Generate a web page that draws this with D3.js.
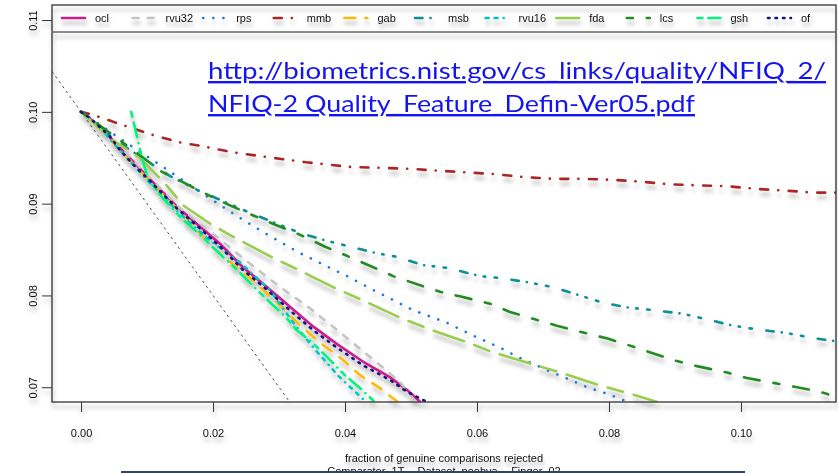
<!DOCTYPE html>
<html><head><meta charset="utf-8">
<script src="https://cdnjs.cloudflare.com/ajax/libs/d3/7.8.5/d3.min.js"></script>
<style>
body{margin:0;background:#fff;}
svg{display:block;}
text{font-family:"Liberation Sans",Arial,sans-serif;}
</style>
</head><body>
<svg id="c" width="838" height="473"></svg>
<script>
// ---------- data ----------
const seriesNames = ["ocl","rvu32","rps","mmb","gab","msb","rvu16","fda","lcs","gsh","of"];
const seriesColors = ["#CD1A8C","#C4C4C4","#1E78DC","#AA2828","#FFB90F","#0A8F94","#00C5CD","#9ACD50","#228B22","#00F57A","#15157A"];
const xTicks = [0.00,0.02,0.04,0.06,0.08,0.10];
const yTicks = [0.07,0.08,0.09,0.10,0.11];
const xTitle = "fraction of genuine comparisons rejected";
const subTitle = "Comparator_1T -- Dataset_poohva -- Finger_02";
const urlLines = ["http://biometrics.nist.gov/cs_links/quality/NFIQ_2/","NFIQ-2 Quality_Feature_Defin-Ver05.pdf"];
const refIntercept = 0.1, refSlope = -1;

const ocl_x = [0,0.0029,0.0056,0.0100,0.0145,0.0177,0.0211,0.0245,0.0282,0.0321,0.0352,0.0388,0.0427,0.0468,0.0494,0.0514];
const ocl_y = [0.1,0.0984,0.0963,0.0930,0.0897,0.0877,0.0856,0.0831,0.0809,0.0785,0.0766,0.0747,0.0728,0.0711,0.0697,0.0684];
const rvu32_x = [0,0.0029,0.0059,0.0105,0.0150,0.0195,0.0250,0.0300,0.0345,0.0392,0.0438,0.0483,0.0507];
const rvu32_y = [0.1,0.0984,0.0962,0.0928,0.0895,0.0870,0.0838,0.0810,0.0787,0.0760,0.0733,0.0706,0.0684];
const rps_x = [0,0.0059,0.0120,0.0180,0.0233,0.0276,0.0332,0.0403,0.0448,0.0503,0.0552,0.0592,0.0635,0.0665,0.0708,0.0738,0.0767,0.0797,0.0829];
const rps_y = [0.1,0.0971,0.0942,0.0913,0.0888,0.0869,0.0846,0.0821,0.0804,0.0784,0.0771,0.0757,0.0743,0.0732,0.0718,0.0709,0.0700,0.0693,0.0684];
const mmb_x = [0,0.0017,0.0062,0.0103,0.0148,0.0188,0.0229,0.0279,0.0342,0.0408,0.0453,0.0498,0.0539,0.0585,0.0630,0.0670,0.0715,0.0761,0.0805,0.0847,0.0892,0.0935,0.0979,0.1024,0.1070,0.1112,0.1144];
const mmb_y = [0.1,0.0997,0.0986,0.0976,0.0967,0.0962,0.0956,0.0951,0.0945,0.0940,0.0939,0.0938,0.0936,0.0934,0.0932,0.0929,0.0927,0.0927,0.0926,0.0924,0.0921,0.0920,0.0919,0.0916,0.0914,0.0912,0.0912];
const gab_x = [0,0.0029,0.0059,0.0105,0.0150,0.0200,0.0256,0.0302,0.0332,0.0367,0.0395,0.0423,0.0453,0.0480];
const gab_y = [0.1,0.0982,0.0958,0.0924,0.0891,0.0852,0.0819,0.0789,0.0767,0.0746,0.0731,0.0713,0.0699,0.0684];
const msb_x = [0,0.0044,0.0071,0.0105,0.0135,0.0176,0.0221,0.0256,0.0294,0.0332,0.0370,0.0403,0.0448,0.0479,0.0518,0.0555,0.0605,0.0635,0.0680,0.0715,0.0756,0.0791,0.0827,0.0867,0.0912,0.0948,0.0988,0.1024,0.1070,0.1105,0.1144];
const msb_y = [0.1,0.0974,0.0960,0.0944,0.0930,0.0915,0.0901,0.0890,0.0879,0.0868,0.0860,0.0854,0.0846,0.0842,0.0833,0.0830,0.0821,0.0819,0.0814,0.0809,0.0800,0.0792,0.0787,0.0784,0.0780,0.0774,0.0767,0.0763,0.0759,0.0754,0.0750];
const rvu16_x = [0,0.0029,0.0059,0.0105,0.0150,0.0195,0.0241,0.0286,0.0324,0.0350,0.0367,0.0389,0.0408,0.0432];
const rvu16_y = [0.1,0.0982,0.0958,0.0922,0.0889,0.0860,0.0836,0.0806,0.0768,0.0745,0.0731,0.0713,0.0700,0.0684];
const fda_x = [0,0.0044,0.0089,0.0127,0.0155,0.0198,0.0233,0.0291,0.0329,0.0388,0.0423,0.0486,0.0529,0.0585,0.0624,0.0685,0.0726,0.0791,0.0827,0.0873];
const fda_y = [0.1,0.0971,0.0950,0.0922,0.0898,0.0877,0.0863,0.0841,0.0828,0.0807,0.0796,0.0775,0.0763,0.0749,0.0738,0.0725,0.0716,0.0701,0.0694,0.0684];
const lcs_x = [0,0.0017,0.0044,0.0085,0.0124,0.0150,0.0202,0.0229,0.0271,0.0332,0.0370,0.0400,0.0442,0.0473,0.0514,0.0544,0.0574,0.0620,0.0650,0.0721,0.0753,0.0798,0.0829,0.0900,0.0933,0.0979,0.1009,0.1085,0.1115,0.1147];
const lcs_y = [0.1,0.0991,0.0977,0.0955,0.0934,0.0925,0.0906,0.0897,0.0884,0.0866,0.0853,0.0844,0.0831,0.0821,0.0811,0.0804,0.0799,0.0791,0.0782,0.0767,0.0761,0.0753,0.0746,0.0729,0.0723,0.0716,0.0710,0.0700,0.0696,0.0689];
const gsh_x = [0.0076,0.0092,0.0102,0.0124,0.0155,0.0176,0.0215,0.0236,0.0271,0.0312,0.0327,0.0350,0.0374,0.0400,0.0423,0.0445];
const gsh_y = [0.1,0.0951,0.0926,0.0906,0.0882,0.0869,0.0842,0.0828,0.0803,0.0775,0.0762,0.0749,0.0732,0.0713,0.0699,0.0684];
const of_x = [0,0.0014,0.0029,0.0044,0.0056,0.0077,0.0100,0.0130,0.0145,0.0177,0.0211,0.0245,0.0282,0.0321,0.0352,0.0388,0.0427,0.0468,0.0494,0.0524];
const of_y = [0.1,0.0993,0.0983,0.0973,0.0961,0.0944,0.0928,0.0906,0.0895,0.0875,0.0853,0.0828,0.0806,0.0781,0.0762,0.0743,0.0724,0.0708,0.0695,0.0684];

const seriesX = [ocl_x,rvu32_x,rps_x,mmb_x,gab_x,msb_x,rvu16_x,fda_x,lcs_x,gsh_x,of_x];
const seriesY = [ocl_y,rvu32_y,rps_y,mmb_y,gab_y,msb_y,rvu16_y,fda_y,lcs_y,gsh_y,of_y];

// ---------- styles ----------
const dashes = [null,"6,9","0.1,10","8,10,0.1,10.5","11,10","7.5,8,0.1,8.5,1.5,9.5,2.5,14.5","3,6,3,6,0.1,6","32,11,16,11","6,14,16,14","5,6,15,6,0.1,6","1.5,6"];
const L=52,R=836,T=5,B=402,LEGB=32;

const svg = d3.select("#c");
const defs = svg.append("defs");
const f = defs.append("filter").attr("id","sh").attr("x","-5%").attr("y","-5%").attr("width","115%").attr("height","130%");
f.append("feDropShadow").attr("dx",1).attr("dy",5).attr("stdDeviation",2).attr("flood-color","#000").attr("flood-opacity",0.28);
defs.append("clipPath").attr("id","clip").append("rect").attr("x",L).attr("y",LEGB).attr("width",R-L).attr("height",B-LEGB);

const x = d3.scaleLinear().domain([-0.0044,0.1144]).range([L,R]);
const y = d3.scaleLinear().domain([0.06839,0.11164]).range([B,T]);

const chart = svg.append("g").attr("filter","url(#sh)");

// reference line y = 0.1 - x
const refG = chart.append("g").attr("clip-path","url(#clip)");
const rx0 = x.domain()[0], rx1 = x.domain()[1];
refG.append("line")
  .attr("x1",x(rx0)).attr("y1",y(refIntercept+refSlope*rx0))
  .attr("x2",x(rx1)).attr("y2",y(refIntercept+refSlope*rx1))
  .attr("stroke","#222").attr("stroke-width",0.8).attr("stroke-dasharray","2.5,3.5");

// series
const lineGen = d3.line().x(d=>x(d[0])).y(d=>y(d[1]));
const linesG = chart.append("g").attr("clip-path","url(#clip)");
seriesNames.forEach((n,i)=>{
  const pts = seriesX[i].map((v,j)=>[v,seriesY[i][j]]);
  linesG.append("path").datum(pts).attr("d",lineGen)
    .attr("fill","none").attr("stroke",seriesColors[i]).attr("stroke-width",2.6)
    .attr("stroke-linecap","round").attr("stroke-linejoin","round")
    .attr("stroke-dasharray",dashes[i]);
});

// axes
const xa = chart.append("g").attr("transform",`translate(0,${B})`)
  .call(d3.axisBottom(x).tickValues(xTicks).tickFormat(d3.format(".2f")).tickSizeOuter(0).tickSize(10).tickPadding(17));
xa.select(".domain").remove();
xa.selectAll("line").attr("stroke","#333");
xa.selectAll("text").attr("font-size",11).attr("fill","#111").style("font-family","Liberation Sans, Arial, sans-serif");

const ya = chart.append("g").attr("transform",`translate(${L},0)`)
  .call(d3.axisLeft(y).tickValues(yTicks).tickFormat(d3.format(".2f")).tickSizeOuter(0).tickSize(10));
ya.select(".domain").remove();
ya.selectAll("line").attr("stroke","#333");
ya.selectAll("text").attr("font-size",11).attr("fill","#111").style("font-family","Liberation Sans, Arial, sans-serif")
  .attr("transform","rotate(-90)").attr("x",0).attr("y",-15).attr("dy",0).attr("text-anchor","middle");

// frame
chart.append("rect").attr("x",L).attr("y",T).attr("width",R-L).attr("height",B-T)
  .attr("fill","none").attr("stroke","#333").attr("stroke-width",1.3);

// legend
const lg = chart.append("g");
lg.append("line").attr("x1",L).attr("x2",R).attr("y1",LEGB).attr("y2",LEGB).attr("stroke","#666").attr("stroke-width",1.5);
seriesNames.forEach((n,i)=>{
  const lx = 62 + i*70.6;
  lg.append("line").attr("x1",lx).attr("x2",lx+23).attr("y1",18).attr("y2",18)
    .attr("stroke",seriesColors[i]).attr("stroke-width",2.6).attr("stroke-linecap","round")
    .attr("stroke-dasharray",dashes[i]);
  lg.append("text").attr("x",lx+33).attr("y",22).attr("font-size",11).attr("fill","#111").text(n);
});

// titles
chart.append("text").attr("x",(L+R)/2).attr("y",462).attr("text-anchor","middle").attr("font-size",11).attr("fill","#111").text(xTitle);
svg.append("text").attr("x",(L+R)/2).attr("y",475).attr("text-anchor","middle").attr("font-size",11).attr("fill","#111").text(subTitle);
svg.append("rect").attr("x",121).attr("y",471).attr("width",624).attr("height",4).attr("fill","#2D4663");

// URL overlay
const urlG = svg.append("g");
const urlW = [618,487];
urlLines.forEach((t,i)=>{
  urlG.append("text").attr("x",208).attr("y",79+i*33)
    .attr("font-size",24).style("font-family","Lato, 'Open Sans', sans-serif")
    .attr("fill","#1414F0").style("text-decoration","underline")
    .attr("textLength",urlW[i]).attr("lengthAdjust","spacingAndGlyphs").text(t);
});
</script>
</body></html>
